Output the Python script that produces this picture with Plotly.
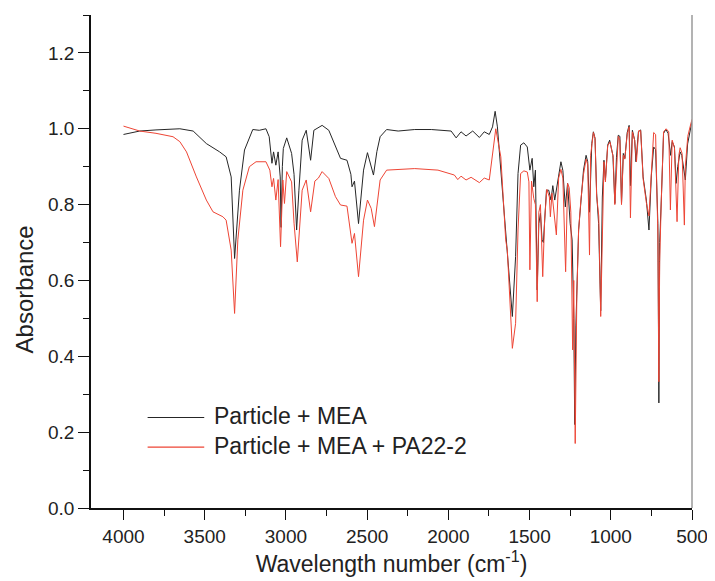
import plotly.graph_objects as go

# ---- Data (wavenumber cm^-1, absorbance) ----
mea_wn = [4000, 3900, 3800, 3653, 3571, 3490, 3408, 3368, 3337, 3316, 3286, 3255, 3204, 3164, 3123,
          3103, 3086, 3076, 3062, 3048, 3035, 3030, 3022, 3016, 2995, 2965, 2950, 2934, 2920, 2900,
          2875, 2848, 2828, 2797, 2777, 2736, 2695, 2664, 2624, 2600, 2593, 2578, 2553, 2522, 2498,
          2475, 2461, 2440, 2420, 2380, 2309, 2207, 2105, 1983, 1952, 1922, 1891, 1850, 1809, 1779,
          1748, 1728, 1712, 1698, 1667, 1637, 1606, 1586, 1571, 1555, 1535, 1514, 1498, 1484, 1474,
          1464, 1453, 1443, 1433, 1423, 1415, 1396, 1382, 1368, 1357, 1345, 1321, 1307, 1295, 1280,
          1266, 1250, 1238, 1228, 1222, 1215, 1198, 1184, 1168, 1152, 1142, 1131, 1117, 1107, 1097,
          1087, 1075, 1062, 1052, 1042, 1033, 1019, 1007, 997, 987, 975, 965, 954, 944, 934,
          923, 913, 899, 887, 879, 867, 853, 845, 830, 816, 801, 781, 765, 750, 736,
          724, 710, 704, 699, 689, 675, 661, 647, 632, 622, 608, 598, 588, 573, 563,
          551, 541, 527, 512, 500]
mea_abs = [0.985, 0.994, 0.997, 1.000, 0.994, 0.961, 0.939, 0.926, 0.873, 0.658, 0.838, 0.944, 0.998, 0.996, 1.000,
           0.979, 0.909, 0.939, 0.904, 0.939, 0.873, 0.740, 0.900, 0.948, 0.976, 0.935, 0.880, 0.733, 0.838, 0.970,
           0.996, 0.917, 0.996, 1.005, 1.009, 0.996, 0.952, 0.922, 0.917, 0.880, 0.847, 0.862, 0.750, 0.891, 0.937,
           0.900, 0.878, 0.940, 0.979, 0.998, 0.994, 0.998, 0.998, 0.994, 0.976, 0.992, 0.981, 0.994, 0.977, 0.992,
           0.985, 1.005, 1.046, 1.005, 0.838, 0.663, 0.505, 0.663, 0.882, 0.957, 0.963, 0.952, 0.891, 0.922, 0.847,
           0.891, 0.575, 0.750, 0.777, 0.707, 0.700, 0.838, 0.838, 0.812, 0.850, 0.812, 0.878, 0.913, 0.890, 0.794,
           0.856, 0.750, 0.707, 0.500, 0.220, 0.480, 0.733, 0.812, 0.891, 0.930, 0.913, 0.780, 0.961, 0.992, 0.975,
           0.830, 0.750, 0.520, 0.820, 0.917, 0.865, 0.957, 0.970, 0.950, 0.930, 0.803, 0.925, 0.983, 0.980, 0.803,
           0.935, 0.922, 0.990, 1.009, 0.850, 0.996, 0.970, 0.913, 0.992, 0.997, 0.873, 0.812, 0.733, 0.878, 0.952,
           0.945, 0.750, 0.277, 0.700, 0.812, 0.988, 0.998, 0.988, 0.930, 0.966, 0.952, 0.856, 0.900, 0.939, 0.930,
           0.890, 0.865, 0.960, 0.998, 1.020]

pa_wn = [4000, 3900, 3800, 3695, 3653, 3612, 3551, 3490, 3449, 3408, 3388, 3368, 3337, 3316, 3296,
         3265, 3225, 3184, 3123, 3099, 3086, 3076, 3062, 3048, 3033, 3019, 3009, 2995, 2965, 2950,
         2930, 2900, 2875, 2848, 2822, 2800, 2777, 2736, 2695, 2664, 2624, 2593, 2578, 2553, 2522,
         2498, 2475, 2455, 2420, 2380, 2309, 2207, 2064, 1983, 1963, 1942, 1922, 1891, 1860, 1809,
         1779, 1748, 1728, 1708, 1677, 1647, 1637, 1606, 1586, 1571, 1555, 1535, 1514, 1504, 1498,
         1488, 1474, 1464, 1453, 1443, 1433, 1419, 1407, 1394, 1378, 1372, 1362, 1335, 1321, 1307,
         1295, 1278, 1266, 1256, 1246, 1235, 1228, 1219, 1209, 1198, 1184, 1168, 1152, 1142, 1131,
         1124, 1107, 1097, 1087, 1074, 1062, 1050, 1042, 1033, 1019, 1005, 995, 985, 975, 964,
         954, 944, 934, 923, 914, 899, 887, 879, 867, 853, 842, 828, 816, 801, 781,
         765, 750, 736, 724, 710, 704, 699, 689, 675, 659, 643, 633, 622, 608, 592,
         581, 573, 561, 547, 541, 526, 512, 500]
pa_abs = [1.007, 0.994, 0.988, 0.979, 0.966, 0.939, 0.873, 0.812, 0.781, 0.772, 0.768, 0.759, 0.680, 0.513, 0.707,
          0.838, 0.900, 0.913, 0.913, 0.891, 0.847, 0.869, 0.812, 0.866, 0.689, 0.865, 0.803, 0.887, 0.860, 0.751,
          0.649, 0.838, 0.865, 0.781, 0.862, 0.870, 0.887, 0.869, 0.821, 0.799, 0.796, 0.698, 0.724, 0.610, 0.759,
          0.812, 0.790, 0.742, 0.865, 0.891, 0.893, 0.895, 0.891, 0.880, 0.878, 0.866, 0.875, 0.865, 0.872, 0.858,
          0.870, 0.865, 0.926, 1.000, 0.926, 0.707, 0.680, 0.421, 0.487, 0.733, 0.882, 0.889, 0.886, 0.860, 0.628,
          0.862, 0.816, 0.800, 0.544, 0.780, 0.800, 0.610, 0.760, 0.840, 0.820, 0.768, 0.830, 0.720, 0.870, 0.893,
          0.870, 0.623, 0.856, 0.845, 0.780, 0.417, 0.600, 0.170, 0.560, 0.733, 0.812, 0.880, 0.920, 0.905, 0.667,
          0.930, 0.990, 0.975, 0.822, 0.770, 0.505, 0.800, 0.913, 0.860, 0.955, 0.965, 0.945, 0.925, 0.800, 0.920,
          0.980, 0.970, 0.800, 0.930, 0.920, 0.985, 1.005, 0.765, 0.992, 0.970, 0.913, 0.995, 0.995, 0.868, 0.805,
          0.770, 0.880, 0.990, 0.985, 0.720, 0.333, 0.650, 0.812, 0.992, 1.000, 0.992, 0.786, 0.970, 0.950, 0.755,
          0.930, 0.950, 0.935, 0.746, 0.900, 0.980, 1.005, 1.025]

series_names = ["Particle + MEA", "Particle + MEA + PA22-2"]
series_colors = ["#262626", "#ee4535"]
x_ticks = [4000, 3500, 3000, 2500, 2000, 1500, 1000, 500]
y_ticks = [0.0, 0.2, 0.4, 0.6, 0.8, 1.0, 1.2]

FONT = "Arial, 'Liberation Sans', sans-serif"
TXT = "#222222"

fig = go.Figure()
fig.add_trace(go.Scatter(x=mea_wn, y=mea_abs, mode="lines", name=series_names[0],
                         line=dict(color=series_colors[0], width=1)))
fig.add_trace(go.Scatter(x=pa_wn, y=pa_abs, mode="lines", name=series_names[1],
                         line=dict(color=series_colors[1], width=1)))

# legend drawn as line samples + text (long sample lines as in the reference)
legend_rows_y = [0.1836, 0.1236]
shapes = [dict(type="line", xref="paper", yref="paper", x0=1, x1=1, y0=0, y1=1,
               line=dict(color="#9a9a9a", width=1.5))]
annotations = [dict(text="Absorbance", xref="paper", yref="paper", x=-0.111, y=0.444,
                    xanchor="center", yanchor="middle", textangle=-90, showarrow=False,
                    font=dict(size=24, family=FONT, color=TXT))]
for name, color, ly in zip(series_names, series_colors, legend_rows_y):
    shapes.append(dict(type="line", xref="paper", yref="paper", x0=0.0942, x1=0.1884, y0=ly, y1=ly,
                       line=dict(color=color, width=1.2)))
    annotations.append(dict(text=name, xref="paper", yref="paper", x=0.2017, y=ly + 0.002,
                            xanchor="left", yanchor="middle", showarrow=False,
                            font=dict(size=23, family=FONT, color=TXT)))

# the page body adds an 8px offset, so the figure is sized 8px smaller
fig.update_layout(
    width=707, height=573,
    margin=dict(l=83, r=19, t=7, b=73, pad=0),
    paper_bgcolor="white", plot_bgcolor="white",
    font=dict(family=FONT, color=TXT),
    showlegend=False,
    shapes=shapes,
    annotations=annotations,
)

fig.update_xaxes(
    range=[4200, 500], tickvals=x_ticks, ticktext=[str(v) for v in x_ticks],
    ticks="outside", ticklen=10, tickwidth=1.3, tickcolor="#111",
    minor=dict(dtick=250, tick0=500, ticks="outside", ticklen=6, tickwidth=1.3, tickcolor="#111", showgrid=False),
    showline=True, linecolor="#111", linewidth=1.5, showgrid=False, zeroline=False,
    tickfont=dict(size=19, family=FONT, color=TXT),
    title=dict(text="Wavelength number (cm<sup>-1</sup>)", font=dict(size=23, family=FONT, color=TXT),
               standoff=10),
)
fig.update_yaxes(
    range=[0, 1.3], tickvals=y_ticks, ticktext=["%.1f" % v for v in y_ticks],
    ticks="outside", ticklen=11, tickwidth=1.3, tickcolor="#111",
    minor=dict(dtick=0.1, tick0=0, ticks="outside", ticklen=6, tickwidth=1.3, tickcolor="#111", showgrid=False),
    showline=True, linecolor="#111", linewidth=1.5, showgrid=False, zeroline=False,
    tickfont=dict(size=19, family=FONT, color=TXT),
)

fig.write_html("out.html")
